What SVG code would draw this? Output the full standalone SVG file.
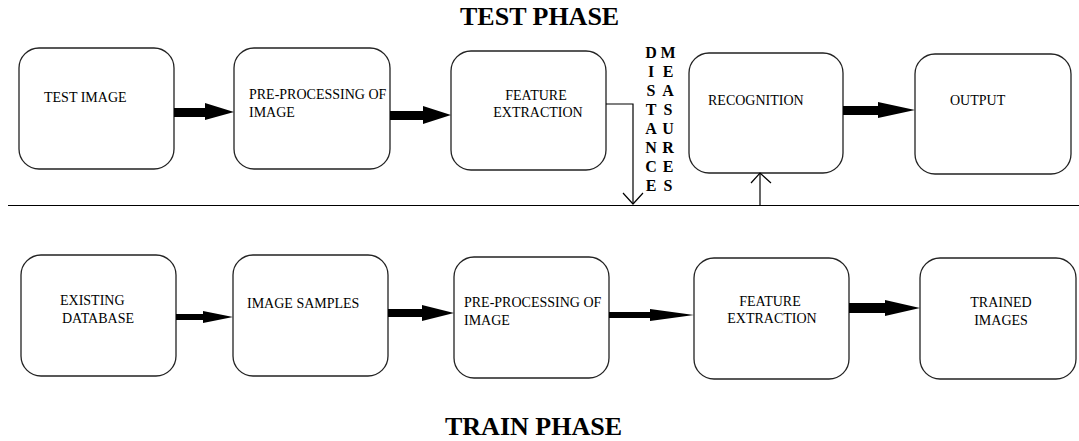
<svg xmlns="http://www.w3.org/2000/svg" width="1079" height="441" viewBox="0 0 1079 441">
<style>
.box{fill:#fff;stroke:#222;stroke-width:1.3}
.t{font-family:"Liberation Serif","Times New Roman",serif;font-size:14px;fill:#000}
.h{font-family:"Liberation Serif","Times New Roman",serif;font-size:26px;font-weight:bold;fill:#000}
.v{font-family:"Liberation Serif","Times New Roman",serif;font-size:16px;font-weight:bold;fill:#000;text-anchor:middle}
.ar{fill:#000}
.ln{fill:none;stroke:#000;stroke-width:1.2}
</style>
<rect width="1079" height="441" fill="#fff"/>
<text class="h" x="460" y="25">TEST PHASE</text>
<text class="h" x="445" y="435">TRAIN PHASE</text>

<g id="test-image"><rect class="box" x="19" y="48" width="155" height="121" rx="20"/><text class="t" x="44" y="102">TEST IMAGE</text></g>
<g id="test-preprocessing"><rect class="box" x="234" y="48" width="156" height="121" rx="20"/><text class="t" x="249" y="99">PRE-PROCESSING OF</text><text class="t" x="249" y="117">IMAGE</text></g>
<g id="test-feature"><rect class="box" x="451" y="51" width="155" height="119" rx="20"/><text class="t" x="536" y="100" text-anchor="middle">FEATURE</text><text class="t" x="538" y="117" text-anchor="middle">EXTRACTION</text></g>
<g id="recognition"><rect class="box" x="689" y="53" width="154" height="120" rx="20"/><text class="t" x="708" y="105">RECOGNITION</text></g>
<g id="output"><rect class="box" x="915" y="54" width="156" height="120" rx="20"/><text class="t" x="950" y="105">OUTPUT</text></g>

<g id="existing-db"><rect class="box" x="21" y="255" width="155" height="121" rx="20"/><text class="t" x="60" y="305">EXISTING</text><text class="t" x="62" y="323">DATABASE</text></g>
<g id="image-samples"><rect class="box" x="233" y="255" width="155" height="121" rx="20"/><text class="t" x="247" y="308">IMAGE SAMPLES</text></g>
<g id="train-preprocessing"><rect class="box" x="454" y="257" width="155" height="121" rx="20"/><text class="t" x="464" y="307">PRE-PROCESSING OF</text><text class="t" x="464" y="325">IMAGE</text></g>
<g id="train-feature"><rect class="box" x="694" y="258" width="155" height="121" rx="20"/><text class="t" x="770" y="306" text-anchor="middle">FEATURE</text><text class="t" x="772" y="323" text-anchor="middle">EXTRACTION</text></g>
<g id="trained-images"><rect class="box" x="920" y="258" width="156" height="121" rx="20"/><text class="t" x="1001" y="307" text-anchor="middle">TRAINED</text><text class="t" x="1001" y="325" text-anchor="middle">IMAGES</text></g>

<g id="distance-measures">
<text class="v" x="651" y="58">D</text><text class="v" x="651" y="77">I</text><text class="v" x="651" y="96">S</text><text class="v" x="651" y="115">T</text><text class="v" x="651" y="134">A</text><text class="v" x="651" y="153">N</text><text class="v" x="651" y="172">C</text><text class="v" x="651" y="191">E</text>
<text class="v" x="668" y="58">M</text><text class="v" x="668" y="77">E</text><text class="v" x="668" y="96">A</text><text class="v" x="668" y="115">S</text><text class="v" x="668" y="134">U</text><text class="v" x="668" y="153">R</text><text class="v" x="668" y="172">E</text><text class="v" x="668" y="191">S</text>
</g>

<g id="connectors">
<line class="ln" x1="8" y1="205.5" x2="1079" y2="205.5"/>
<polygon class="ar" points="174,108 205,108 205,103 234,112 205,120 205,117 174,117"/>
<polygon class="ar" points="390,111 423,111 423,106 451,115 423,124 423,120 390,120"/>
<polygon class="ar" points="843,106 878,106 878,102 915,110 878,118 878,115 843,115"/>
<polygon class="ar" points="176,314 203,314 203,311 233,317 203,323 203,320 176,320"/>
<polygon class="ar" points="388,309 422,309 422,305 454,313 422,321 422,317 388,317"/>
<polygon class="ar" points="609,312 650,312 650,309 694,315 650,321 650,318 609,318"/>
<polygon class="ar" points="849,303 885,303 885,300 920,308 885,316 885,313 849,313"/>
<polyline class="ln" points="606,104 633,104 633,204"/>
<polyline class="ln" points="623,193 633,204 643,193"/>
<line class="ln" x1="760" y1="205" x2="760" y2="173"/>
<polyline class="ln" points="751,183 760,173 771,183"/>
</g>
</svg>
